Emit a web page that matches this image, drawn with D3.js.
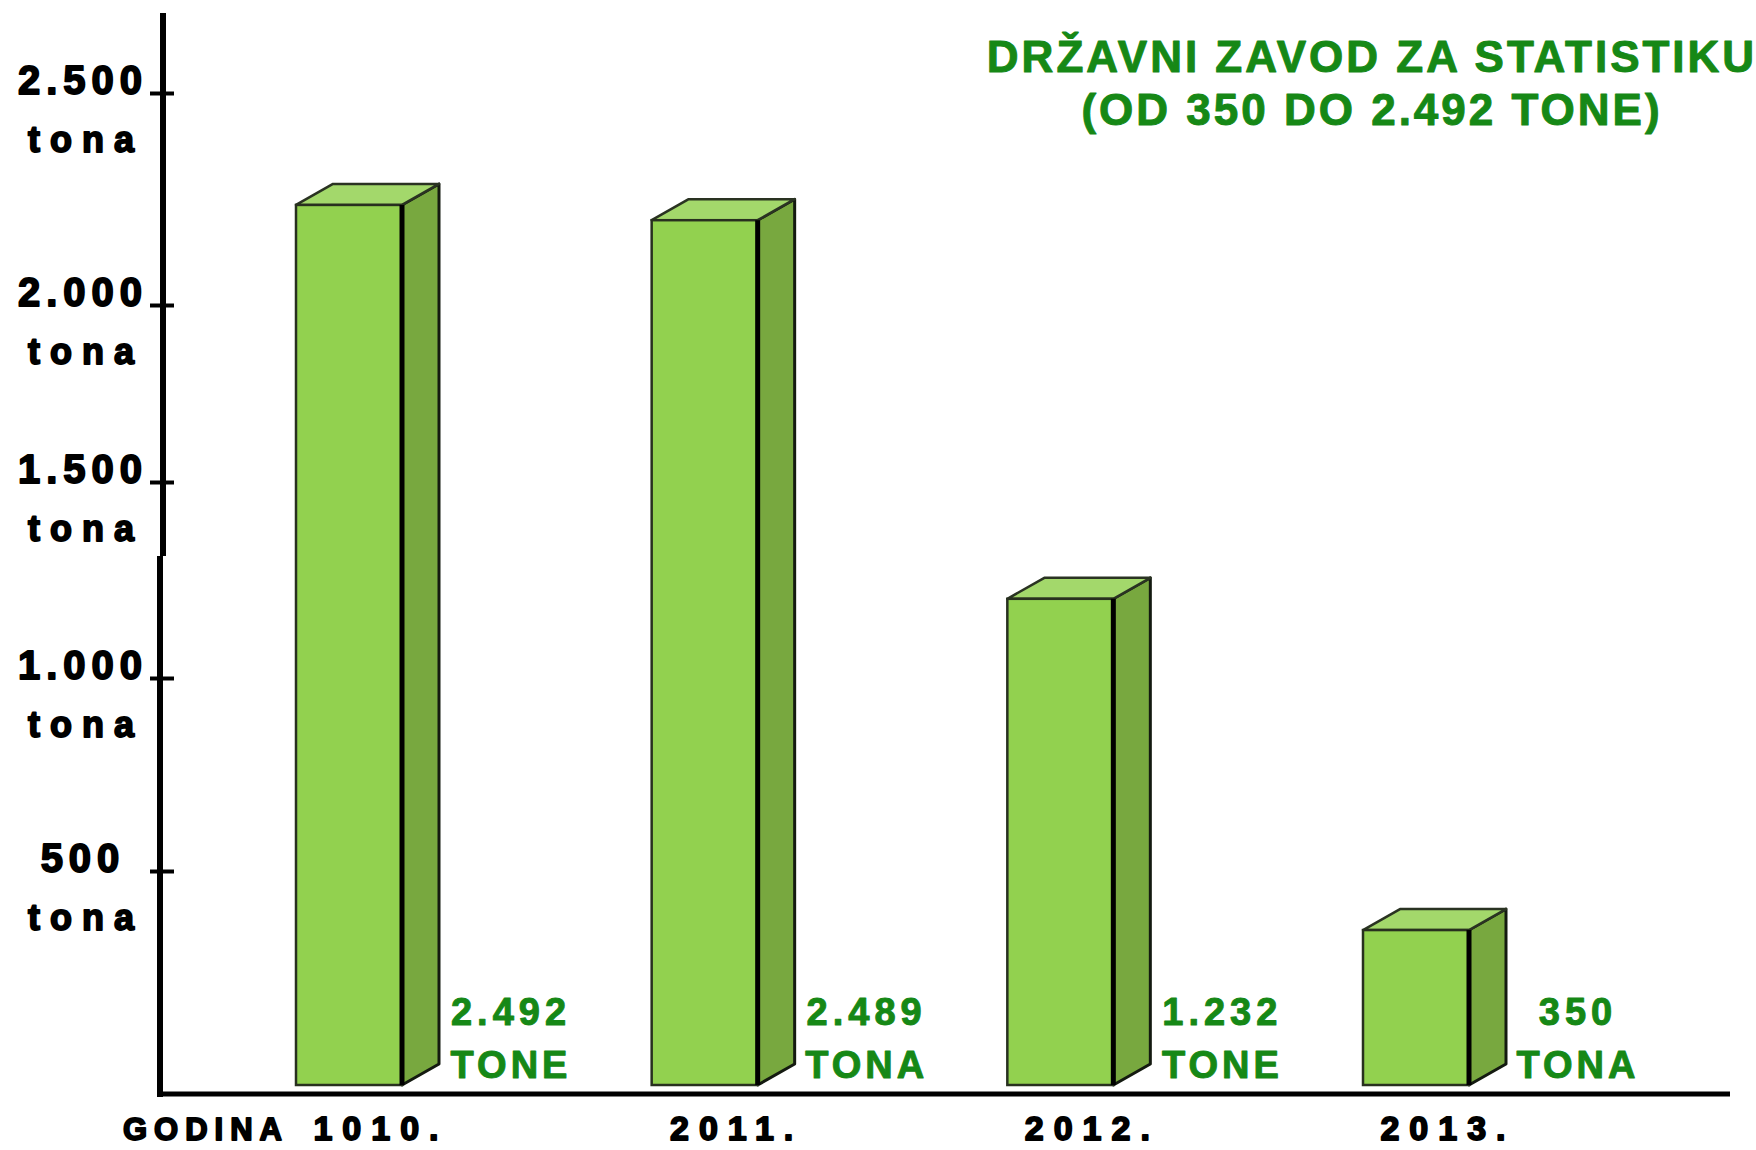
<!DOCTYPE html>
<html lang="hr">
<head>
<meta charset="UTF-8">
<title>Državni zavod za statistiku</title>
<style>
  html, body { margin: 0; padding: 0; background: #fff; overflow: hidden; }
  svg { display: block; }
  .black { font-family: "Liberation Sans", Arial, sans-serif; font-weight: bold; fill: #000; stroke: #000; stroke-width: 1.8px; stroke-linejoin: round; }
  .green { font-family: "Liberation Sans", Arial, sans-serif; font-weight: bold; fill: #168816; stroke: #168816; stroke-width: 1px; stroke-linejoin: round; }
</style>
</head>
<body>
<script src="https://d3js.org/d3.v7.min.js"></script>
<script>
// podaci
const years = ['1010.', '2011.', '2012.', '2013.'];
// visina stupca ocitana prema osi
const tons = [2236, 2200, 1202, 362];
const valueLabels = ['2.492', '2.489', '1.232', '350'];
const unitLabels = ['TONE', 'TONA', 'TONE', 'TONA'];
const yTicks = [500, 1000, 1500, 2000, 2500];
const yTickLabels = ['500', '1.000', '1.500', '2.000', '2.500'];
const titleLines = ['DRŽAVNI ZAVOD ZA STATISTIKU', '(OD 350 DO 2.492 TONE)'];

const width = 1756, height = 1150;
const axisX = 162, baseY = 1094;

const svg = d3.select('body').append('svg')
    .attr('width', width)
    .attr('height', height);

// os nije ravnomjerna na originalu, pa skala ide po dijelovima
const y = d3.scaleLinear()
    .domain([0, 500, 1000, 1500, 2000, 2500])
    .range([1085, 871, 678, 482, 305, 93]);

const x = d3.scalePoint()
    .domain(years)
    .range([349, 1416]);

const barW = 106, dx = 37, dy = -21;

// stupci
const bars = svg.selectAll('g.bar')
    .data(years.map((d, i) => ({ year: d, value: tons[i], label: valueLabels[i], unit: unitLabels[i] })))
    .enter().append('g')
    .attr('class', 'bar');

bars.each(function (d) {
    const g = d3.select(this);
    const xl = x(d.year) - barW / 2, xr = x(d.year) + barW / 2;
    const yt = y(d.value), yb = y(0);

    g.append('polygon')
        .attr('points', [[xr, yt], [xr + dx, yt + dy], [xr + dx, yb + dy], [xr, yb]].join(' '))
        .attr('fill', '#78a83f')
        .attr('stroke', '#141a10')
        .attr('stroke-width', 3)
        .attr('stroke-linejoin', 'round');

    g.append('polygon')
        .attr('points', [[xl, yt], [xl + dx, yt + dy], [xr + dx, yt + dy], [xr, yt]].join(' '))
        .attr('fill', '#a3d86b')
        .attr('stroke', '#2a3322')
        .attr('stroke-width', 2.5)
        .attr('stroke-linejoin', 'round');

    g.append('rect')
        .attr('x', xl)
        .attr('y', yt)
        .attr('width', barW)
        .attr('height', yb - yt)
        .attr('fill', '#92d14f')
        .attr('stroke', '#28301f')
        .attr('stroke-width', 2.5);

    g.append('line')
        .attr('x1', xr).attr('x2', xr)
        .attr('y1', yt).attr('y2', yb)
        .attr('stroke', '#000')
        .attr('stroke-width', 5);

    const lx = xr + dx + 72;
    g.append('text')
        .attr('class', 'green')
        .attr('x', lx)
        .attr('y', yb - 60)
        .attr('text-anchor', 'middle')
        .style('font-size', '38px')
        .style('letter-spacing', '5px')
        .text(d.label);

    g.append('text')
        .attr('class', 'green')
        .attr('x', lx)
        .attr('y', yb - 7)
        .attr('text-anchor', 'middle')
        .style('font-size', '38px')
        .style('letter-spacing', '4px')
        .text(d.unit);
});

// y os
const yAxis = d3.axisLeft(y)
    .tickValues(yTicks)
    .tickSize(12)
    .tickFormat('');

const yg = svg.append('g')
    .attr('transform', `translate(${axisX},0)`)
    .call(yAxis);
yg.select('.domain').remove();
yg.selectAll('.tick line')
    .attr('x1', 12)
    .attr('x2', -12)
    .attr('stroke', '#000')
    .attr('stroke-width', 4);

svg.append('path')
    .attr('d', `M${axisX + 1},13 V556 M${axisX - 2},556 V${baseY + 3}`)
    .attr('fill', 'none')
    .attr('stroke', '#000')
    .attr('stroke-width', 6);

const yLab = svg.selectAll('g.ylab')
    .data(yTicks)
    .enter().append('g')
    .attr('class', 'ylab');

yLab.append('text')
    .attr('class', 'black')
    .attr('x', 83)
    .attr('y', d => y(d) + 1)
    .attr('text-anchor', 'middle')
    .style('font-size', '40px')
    .style('letter-spacing', '6px')
    .text((d, i) => yTickLabels[i]);

yLab.append('text')
    .attr('class', 'black')
    .attr('x', 86)
    .attr('y', d => y(d) + 59)
    .attr('text-anchor', 'middle')
    .style('font-size', '36px')
    .style('letter-spacing', '10px')
    .text('tona');

// x os
svg.append('line')
    .attr('x1', axisX - 5).attr('x2', 1730)
    .attr('y1', baseY).attr('y2', baseY)
    .attr('stroke', '#000')
    .attr('stroke-width', 5);

svg.selectAll('text.year')
    .data(years)
    .enter().append('text')
    .attr('class', 'black year')
    .attr('x', d => x(d) + 32)
    .attr('y', 1140)
    .attr('text-anchor', 'middle')
    .style('font-size', '34px')
    .style('letter-spacing', '10px')
    .text(d => d);

svg.append('text')
    .attr('class', 'black')
    .attr('x', 123)
    .attr('y', 1140)
    .style('font-size', '31px')
    .style('letter-spacing', '7px')
    .text('GODINA');

// naslov
svg.selectAll('text.title')
    .data(titleLines)
    .enter().append('text')
    .attr('class', 'green title')
    .attr('x', 1372)
    .attr('y', (d, i) => 72 + i * 53)
    .attr('text-anchor', 'middle')
    .style('font-size', '44px')
    .style('letter-spacing', '3px')
    .text(d => d);
</script>
</body>
</html>
